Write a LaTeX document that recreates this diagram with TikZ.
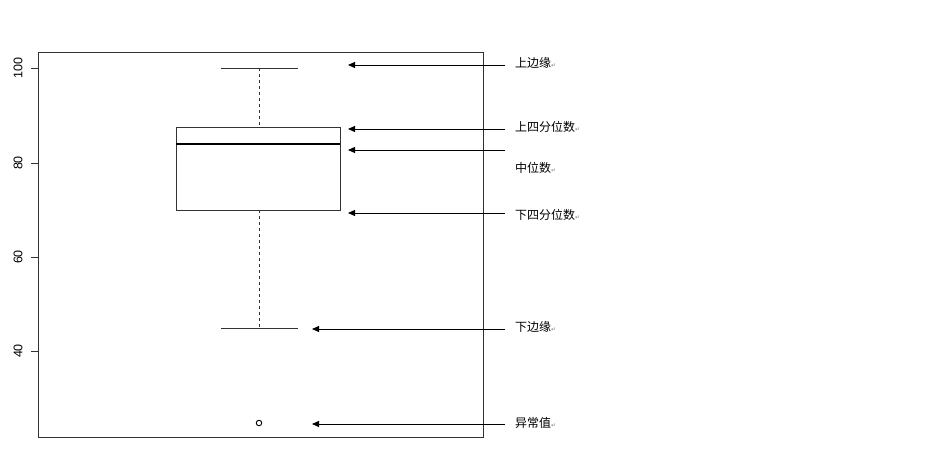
\documentclass[tikz,border=0pt]{standalone}
\usepackage{fontspec}
\newfontfamily\cjk{Noto Sans CJK SC}
\newfontfamily\dejavu{DejaVu Sans}
\setsansfont{Liberation Sans}
\usetikzlibrary{positioning,arrows.meta}

\begin{document}
\begin{tikzpicture}[x=1pt,y=-1pt,
	note/.style={anchor=west,inner sep=0pt,font=\cjk\fontsize{12}{14}\selectfont},
	tick/.style={rotate=90,inner sep=0pt,font=\sffamily\fontsize{12.5}{14}\selectfont},
	pointer/.style={-{Triangle[length=7pt,width=6pt]},line width=1pt},
	dot/.style={circle,draw,line width=0.9pt,inner sep=0pt,minimum size=5.5pt}]
	\useasboundingbox (0,0) rectangle (935,455);

	% frame and axis
	\draw[line width=1pt,gray!40!black] (38,52) rectangle (483,437);
	\foreach \v/\y in {100/68,80/163,60/257,40/351}{
		\draw[line width=1pt,gray!40!black] (31,\y) -- (38,\y);
		\node[tick] (t\v) at (18,\y) {\v};
	}

	% box
	\draw[line width=1pt,gray!40!black] (176,127) rectangle (340,210);
	\draw[line width=2.2pt] (176,144) -- (340,144);
	\draw[line width=1pt,dashed,gray!40!black] (259,68) -- (259,127);
	\draw[line width=1pt,dashed,gray!40!black] (259,210) -- (259,328);
	\draw[line width=1pt,gray!40!black] (221,68) -- (298,68);
	\draw[line width=1pt,gray!40!black] (221,328) -- (298,328);
	\node[dot] (out) at (259,423) {};

	% labels
	\newcommand{\pmark}{{\dejavu\fontsize{6}{7}\selectfont\textcolor{gray}{↵}}}
	\node[note] (upper)  at (515,63)  {上边缘\pmark};
	\node[note] (q3)     at (515,127) {上四分位数\pmark};
	\node[note] (median) at (515,168) {中位数\pmark};
	\node[note] (q1)     at (515,215) {下四分位数\pmark};
	\node[note] (lower)  at (515,327) {下边缘\pmark};
	\node[note] (outl)   at (515,423) {异常值\pmark};

	\coordinate (a1) at (348,65);
	\coordinate (a2) at (348,129);
	\coordinate (a3) at (348,150);
	\coordinate (a4) at (348,213);
	\coordinate (a5) at (312,329);
	\coordinate (a6) at (312,424);

	\draw[pointer] (upper.west) ++(-10,2) -- (a1);
	\draw[pointer] (q3.west) ++(-10,2) -- (a2);
	\draw[pointer] (505,150) -- (a3);
	\draw[pointer] (q1.west) ++(-10,-2) -- (a4);
	\draw[pointer] (lower.west) ++(-10,2) -- (a5);
	\draw[pointer] (outl.west) ++(-10,1) -- (a6);
\end{tikzpicture}
\end{document}
